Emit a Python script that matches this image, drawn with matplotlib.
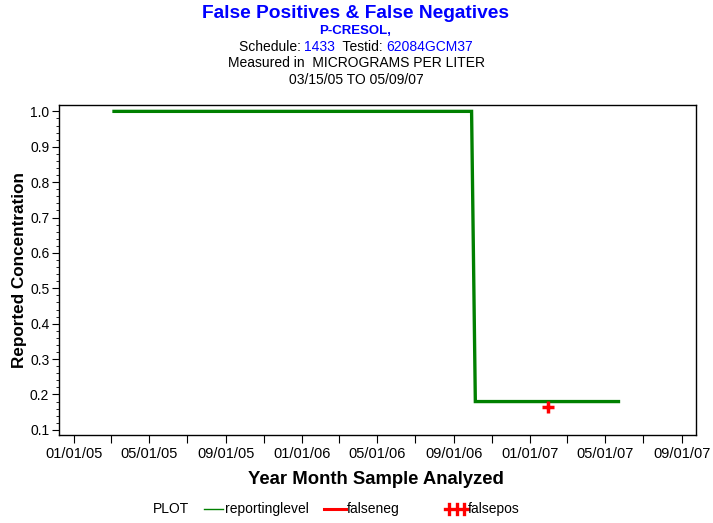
import matplotlib
matplotlib.use("Agg")
import matplotlib.pyplot as plt
from matplotlib.lines import Line2D
import numpy as np
import datetime as dt

# ---- data ----
level_dates = ["2005-03-06", "2006-09-29", "2006-10-05", "2007-05-22"]
level_values = [1.0, 1.0, 0.18, 0.18]
falsepos_dates = ["2007-01-30"]
falsepos_values = [0.165]
x_tick_labels = ["01/01/05", "05/01/05", "09/01/05", "01/01/06", "05/01/06",
                 "09/01/06", "01/01/07", "05/01/07", "09/01/07"]
y_ticks = [0.1, 0.2, 0.3, 0.4, 0.5, 0.6, 0.7, 0.8, 0.9, 1.0]

plt.rcParams['font.family'] = ['Liberation Sans', 'DejaVu Sans']

fig = plt.figure(figsize=(7.13, 5.23), dpi=100)
W, H = 713, 523
AX_L, AX_R, AX_T, AX_B = 59, 696, 105, 435
ax = fig.add_axes([AX_L/W, 1-AX_B/H, (AX_R-AX_L)/W, (AX_B-AX_T)/H])

ld = [dt.datetime.strptime(d, "%Y-%m-%d") for d in level_dates]
fd = [dt.datetime.strptime(d, "%Y-%m-%d") for d in falsepos_dates]

ax.plot(ld, level_values, color="#008000", lw=2.4, solid_joinstyle="miter")
ax.plot(fd, falsepos_values, linestyle="none", marker="+", markersize=9,
        markeredgewidth=2.5, color="#ff0000")

ax.set_xlim(dt.datetime(2004, 12, 8), dt.datetime(2007, 9, 23))
ax.set_ylim(0.0855, 1.018)

major = [dt.datetime.strptime(s, "%m/%d/%y") for s in x_tick_labels]
minor = [dt.datetime(y + (mo - 1) // 12, (mo - 1) % 12 + 1, 1)
         for y, mo in [(m.year, m.month + 2) for m in major[:-1]]]
ax.set_xticks(major)
ax.set_xticklabels(x_tick_labels)
ax.set_xticks(minor, minor=True)
ax.tick_params(axis="x", which="both", length=6, width=0.8, direction="out",
               labelsize=10.5, pad=3)

ax.set_yticks(y_ticks)
ax.set_yticklabels([f"{v:.1f}" for v in y_ticks])
ax.set_yticks(np.round(np.arange(0.1, 1.0001, 0.02), 3), minor=True)
ax.tick_params(axis="y", which="major", length=5, width=0.8, labelsize=10, pad=2)
ax.tick_params(axis="y", which="minor", length=2.5, width=0.6)

for s in ax.spines.values():
    s.set_linewidth(1.0)

fig.text(20/W, 1-270/H, "Reported Concentration", rotation=90, ha="center", va="center",
         fontsize=12.3, fontweight="bold")
fig.text(376/W, 1-480/H, "Year Month Sample Analyzed", ha="center", va="center",
         fontsize=13.3, fontweight="bold")

# titles
fig.text(356/W, 1-13/H, "False Positives & False Negatives", ha="center", va="center",
         fontsize=13.8, fontweight="bold", color="#0000ff")
fig.text(355/W, 1-31/H, "P-CRESOL,", ha="center", va="center",
         fontsize=9.5, fontweight="bold", color="#0000ff")
parts = [("Schedule: ", "black"), ("1433", "#0000ff"), ("  Testid: ", "black"), ("62084GCM37", "#0000ff")]
renderer = fig.canvas.get_renderer()
texts = []
for s, c in parts:
    t = fig.text(0, 1-47/H, s, fontsize=10, color=c, va="center", ha="left")
    texts.append(t)
widths = [t.get_window_extent(renderer).width for t in texts]
x0 = 356 - sum(widths)/2
for t, w in zip(texts, widths):
    t.set_x(x0/W)
    x0 += w
fig.text(356/W, 1-63/H, "Measured in  MICROGRAMS PER LITER", ha="center", va="center",
         fontsize=10, color="black")
fig.text(356/W, 1-80/H, "03/15/05 TO 05/09/07", ha="center", va="center",
         fontsize=10, color="black")

# legend
ly = 1-509/H
fig.text(153/W, ly, "PLOT", fontsize=10, va="center", ha="left")
fig.add_artist(Line2D([204/W, 223/W], [ly, ly], color="#008000", lw=1.0))
fig.text(225/W, ly, "reportinglevel", fontsize=10, va="center", ha="left")
fig.add_artist(Line2D([324/W, 346/W], [ly, ly], color="#ff0000", lw=2.2))
fig.text(347/W, ly, "falseneg", fontsize=10, va="center", ha="left")
fig.add_artist(Line2D([445/W, 468/W], [ly, ly], color="#ff0000", lw=2.4))
for px in [449, 456.5, 464]:
    fig.add_artist(Line2D([px/W, px/W], [ly-5/H, ly+5/H], color="#ff0000", lw=2.4))
fig.text(468/W, ly, "falsepos", fontsize=10, va="center", ha="left")

fig.savefig("out.png", dpi=100)
